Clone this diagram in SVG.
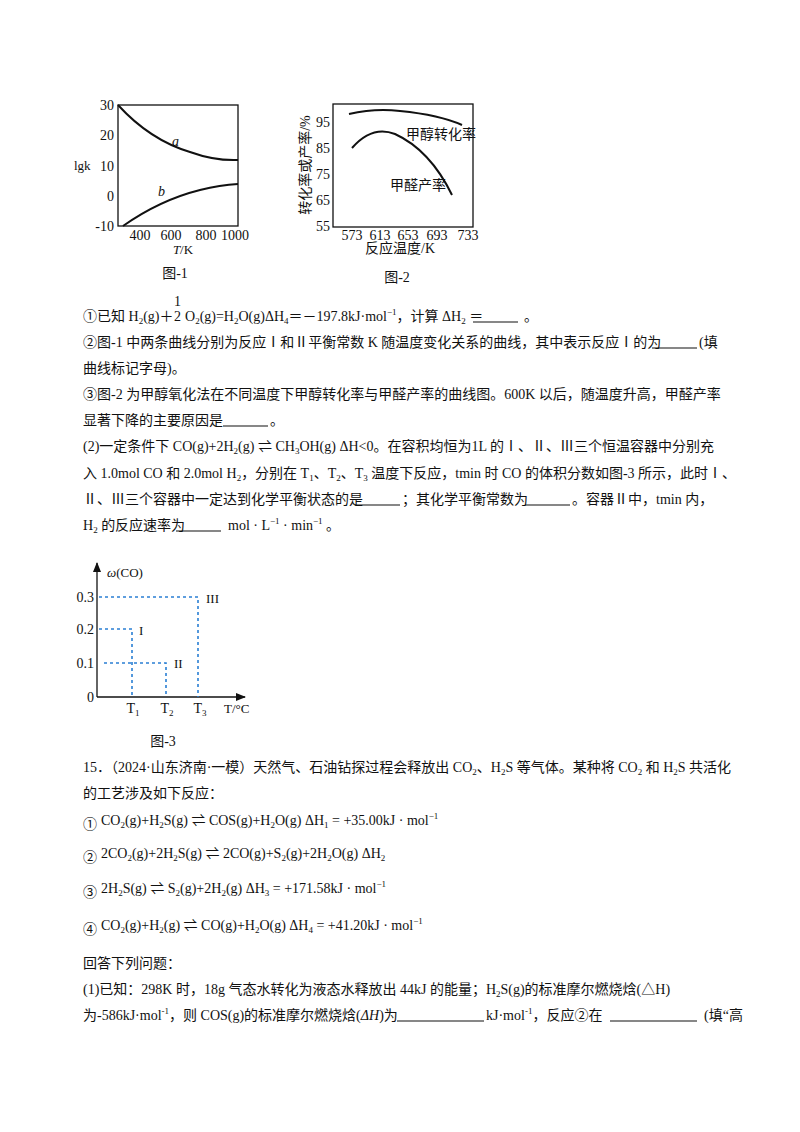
<svg xmlns="http://www.w3.org/2000/svg" width="800" height="1132" viewBox="0 0 800 1132">
<style>
text{font-family:"Liberation Serif","Noto Sans CJK SC",serif;font-size:14px;fill:#111}
.s{font-size:13px}
.sub{font-size:9px}
.ax{stroke:#111;stroke-width:1.3;fill:none}
.cv{stroke:#111;stroke-width:2;fill:none}
.dl{stroke:#2a7fd4;stroke-width:1.6;stroke-dasharray:3,3;fill:none}
.u{stroke:#111;stroke-width:1.2}
</style>
<defs><marker id="ar" markerWidth="10" markerHeight="8" refX="9" refY="4" orient="auto" markerUnits="userSpaceOnUse"><path d="M0,0 L10,4 L0,8 z" fill="#111"/></marker></defs>
<rect width="800" height="1132" fill="#fff"/>
<g id="fig1">
<rect class="ax" x="118" y="105" width="120" height="121"/>
<g class="s" text-anchor="end"><text x="114" y="110">30</text><text x="114" y="140">20</text><text x="114" y="171">10</text><text x="114" y="201">0</text><text x="114" y="231">-10</text></g>
<g class="s" text-anchor="middle"><text x="140" y="240">400</text><text x="171" y="240">600</text><text x="206" y="240">800</text><text x="235" y="240">1000</text></g>
<path class="cv" d="M118,105 Q150,140 190,152 Q215,161 238,160"/>
<path class="cv" d="M123,226 Q160,200 200,190 Q220,185 238,184"/>
<text x="172" y="146" font-style="italic">a</text><text x="158" y="196" font-style="italic">b</text>
<text x="74" y="170" class="s">lgk</text>
<text x="183" y="254" class="s" text-anchor="middle"><tspan font-style="italic">T</tspan>/K</text>
<text x="175" y="278" text-anchor="middle">图-1</text>
</g>
<g id="fig2">
<rect class="ax" x="333" y="104" width="140" height="123"/>
<g class="s" text-anchor="end"><text x="330" y="127">95</text><text x="330" y="153">85</text><text x="330" y="179">75</text><text x="330" y="205">65</text><text x="330" y="231">55</text></g>
<g class="s" text-anchor="middle"><text x="352" y="240">573</text><text x="380" y="240">613</text><text x="408" y="240">653</text><text x="437" y="240">693</text><text x="468" y="240">733</text></g>
<path class="cv" d="M349,114 Q375,108 400,111 Q440,115 462,125"/>
<path class="cv" d="M352,148 Q372,125 395,134 Q430,150 452,195"/>
<text x="406" y="139" font-size="11">甲醇转化率</text>
<text x="390" y="190" font-size="11">甲醛产率</text>
<text transform="translate(310,165) rotate(-90)" font-size="14" text-anchor="middle">转化率或产率/%</text>
<text x="400" y="253" font-size="14" text-anchor="middle">反应温度/K</text>
<text x="397" y="282" text-anchor="middle">图-2</text>
</g>
<g id="text1">
<text x="83" y="321">①已知 H<tspan class="sub" dy="3">2</tspan><tspan dy="-3">(g)＋</tspan></text>
<text x="174" y="306" font-size="11">1</text><text x="174" y="321" font-size="11">2</text>
<text x="185" y="321">O<tspan class="sub" dy="3">2</tspan><tspan dy="-3">(g)=H</tspan><tspan class="sub" dy="3">2</tspan><tspan dy="-3">O(g)ΔH</tspan><tspan class="sub" dy="3">4</tspan><tspan dy="-3">＝－197.8kJ·mol</tspan><tspan class="sub" dy="-6">−1</tspan><tspan dy="6">，计算 ΔH</tspan><tspan class="sub" dy="3">2</tspan><tspan dy="-3"> ＝ </tspan></text>
<line class="u" x1="473" y1="322" x2="518" y2="322"/><text x="524" y="321">。</text>
<text x="83" y="347">②图-1 中两条曲线分别为反应Ⅰ和Ⅱ平衡常数 K 随温度变化关系的曲线，其中表示反应Ⅰ的为</text>
<line class="u" x1="652" y1="348" x2="697" y2="348"/><text x="699" y="347">(填</text>
<text x="83" y="373">曲线标记字母)。</text>
<text x="83" y="399">③图-2 为甲醇氧化法在不同温度下甲醇转化率与甲醛产率的曲线图。600K 以后，随温度升高，甲醛产率</text>
<text x="83" y="425">显著下降的主要原因是</text><line class="u" x1="223" y1="426" x2="268" y2="426"/><text x="270" y="425">。</text>
<text x="83" y="451">(2)一定条件下 CO(g)+2H<tspan class="sub" dy="3">2</tspan><tspan dy="-3">(g) ⇌ CH</tspan><tspan class="sub" dy="3">3</tspan><tspan dy="-3">OH(g)   ΔH&lt;0。在容积均恒为1L 的Ⅰ、Ⅱ、Ⅲ三个恒温容器中分别充</tspan></text>
<text x="83" y="478">入 1.0mol CO 和 2.0mol H<tspan class="sub" dy="3">2</tspan><tspan dy="-3">，分别在 T</tspan><tspan class="sub" dy="3">1</tspan><tspan dy="-3">、T</tspan><tspan class="sub" dy="3">2</tspan><tspan dy="-3">、T</tspan><tspan class="sub" dy="3">3</tspan><tspan dy="-3"> 温度下反应，tmin 时 CO 的体积分数如图-3 所示，此时Ⅰ、</tspan></text>
<text x="83" y="504">Ⅱ、Ⅲ三个容器中一定达到化学平衡状态的是</text><line class="u" x1="355" y1="505" x2="400" y2="505"/>
<text x="402" y="504">；其化学平衡常数为</text><line class="u" x1="525" y1="505" x2="570" y2="505"/>
<text x="572" y="504">。容器Ⅱ中，tmin 内，</text>
<text x="83" y="530">H<tspan class="sub" dy="3">2</tspan><tspan dy="-3"> 的反应速率为</tspan></text><line class="u" x1="176" y1="531" x2="221" y2="531"/>
<text x="228" y="530" font-size="12">mol · L<tspan class="sub" dy="-6">−1</tspan><tspan dy="6"> · min</tspan><tspan class="sub" dy="-6">−1</tspan><tspan dy="6"> 。</tspan></text>
</g>
<g id="fig3">
<line class="ax" x1="97" y1="697" x2="97" y2="563" marker-end="url(#ar)"/>
<line class="ax" x1="97" y1="697" x2="245" y2="697" marker-end="url(#ar)"/>
<path class="dl" d="M99,597 H198 V697"/>
<path class="dl" d="M99,629 H132 V697"/>
<path class="dl" d="M104,663 H166 V697"/>
<g class="s" text-anchor="end"><text x="94" y="602">0.3</text><text x="94" y="634">0.2</text><text x="94" y="668">0.1</text><text x="94" y="702">0</text></g>
<text x="206" y="603" class="s">III</text><text x="139" y="635" class="s">I</text><text x="174" y="668" class="s">II</text>
<text x="107" y="577" class="s"><tspan font-style="italic">ω</tspan>(CO)</text>
<g class="s" text-anchor="middle"><text x="133" y="713">T<tspan class="sub" dy="3">1</tspan></text><text x="167" y="713">T<tspan class="sub" dy="3">2</tspan></text><text x="200" y="713">T<tspan class="sub" dy="3">3</tspan></text></g>
<text x="224" y="713" class="s">T/°C</text>
<text x="163" y="746" text-anchor="middle">图-3</text>
</g>
<g id="text2">
<text x="83" y="772">15．（2024·山东济南·一模）天然气、石油钻探过程会释放出 CO<tspan class="sub" dy="3">2</tspan><tspan dy="-3">、H</tspan><tspan class="sub" dy="3">2</tspan><tspan dy="-3">S 等气体。某种将 CO</tspan><tspan class="sub" dy="3">2</tspan><tspan dy="-3"> 和 H</tspan><tspan class="sub" dy="3">2</tspan><tspan dy="-3">S 共活化</tspan></text>
<text x="83" y="798">的工艺涉及如下反应：</text>
<text x="83" y="829">①</text>
<text x="101" y="825">CO<tspan class="sub" dy="3">2</tspan><tspan dy="-3">(g)+H</tspan><tspan class="sub" dy="3">2</tspan><tspan dy="-3">S(g) ⇌ COS(g)+H</tspan><tspan class="sub" dy="3">2</tspan><tspan dy="-3">O(g)   ΔH</tspan><tspan class="sub" dy="3">1</tspan><tspan dy="-3"> = +35.00kJ · mol</tspan><tspan class="sub" dy="-6">−1</tspan></text>
<text x="83" y="862">②</text>
<text x="101" y="858">2CO<tspan class="sub" dy="3">2</tspan><tspan dy="-3">(g)+2H</tspan><tspan class="sub" dy="3">2</tspan><tspan dy="-3">S(g) ⇌ 2CO(g)+S</tspan><tspan class="sub" dy="3">2</tspan><tspan dy="-3">(g)+2H</tspan><tspan class="sub" dy="3">2</tspan><tspan dy="-3">O(g)   ΔH</tspan><tspan class="sub" dy="3">2</tspan></text>
<text x="83" y="897">③</text>
<text x="101" y="893">2H<tspan class="sub" dy="3">2</tspan><tspan dy="-3">S(g) ⇌ S</tspan><tspan class="sub" dy="3">2</tspan><tspan dy="-3">(g)+2H</tspan><tspan class="sub" dy="3">2</tspan><tspan dy="-3">(g)   ΔH</tspan><tspan class="sub" dy="3">3</tspan><tspan dy="-3"> = +171.58kJ · mol</tspan><tspan class="sub" dy="-6">−1</tspan></text>
<text x="83" y="934">④</text>
<text x="101" y="930">CO<tspan class="sub" dy="3">2</tspan><tspan dy="-3">(g)+H</tspan><tspan class="sub" dy="3">2</tspan><tspan dy="-3">(g) ⇌ CO(g)+H</tspan><tspan class="sub" dy="3">2</tspan><tspan dy="-3">O(g)   ΔH</tspan><tspan class="sub" dy="3">4</tspan><tspan dy="-3"> = +41.20kJ · mol</tspan><tspan class="sub" dy="-6">−1</tspan></text>
<text x="83" y="968">回答下列问题：</text>
<text x="83" y="994">(1)已知：298K 时，18g 气态水转化为液态水释放出 44kJ 的能量；H<tspan class="sub" dy="3">2</tspan><tspan dy="-3">S(g)的标准摩尔燃烧焓(△H)</tspan></text>
<text x="83" y="1020">为-586kJ·mol<tspan class="sub" dy="-6">-1</tspan><tspan dy="6">，则 COS(g)的标准摩尔燃烧焓(</tspan><tspan font-style="italic">ΔH</tspan>)为</text>
<line class="u" x1="397" y1="1021" x2="484" y2="1021"/>
<text x="486" y="1020">kJ·mol<tspan class="sub" dy="-6">-1</tspan><tspan dy="6">，反应②在</tspan></text>
<line class="u" x1="610" y1="1021" x2="697" y2="1021"/>
<text x="704" y="1020">(填“高</text>
</g>
</svg>
